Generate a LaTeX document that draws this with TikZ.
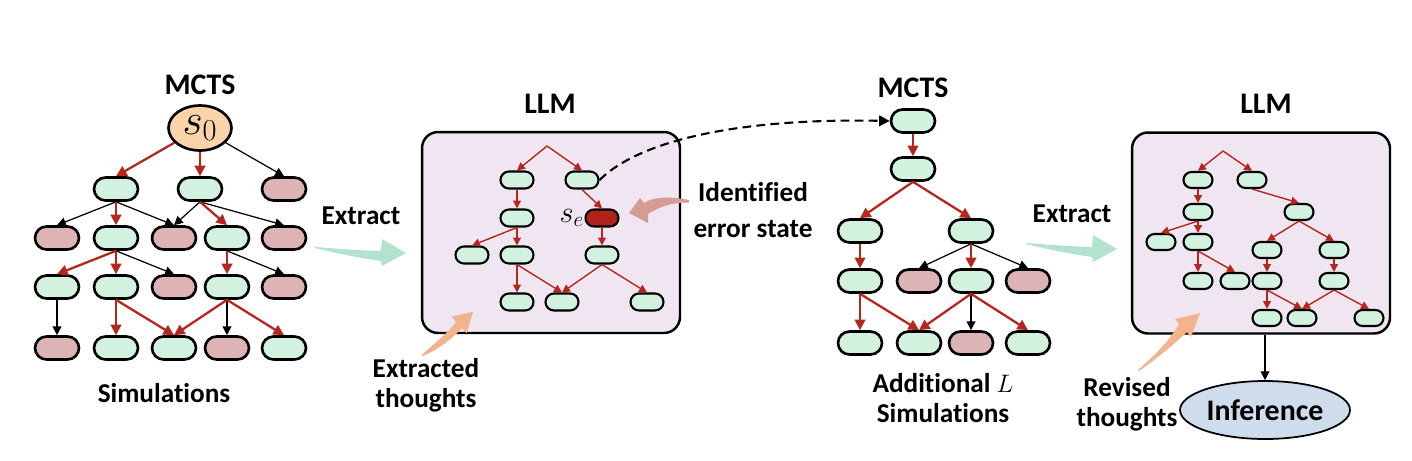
\documentclass[tikz,border=0pt]{standalone}
\usepackage{fontspec}
\setmainfont[Ligatures=NoCommon]{Carlito}
\usetikzlibrary{arrows.meta,shapes.geometric,positioning}
\definecolor{okgreen}{HTML}{D3F1DF}
\definecolor{badpink}{HTML}{DEB3B5}
\definecolor{errred}{HTML}{B0231B}
\definecolor{arrred}{HTML}{B5261E}
\definecolor{boxlav}{HTML}{F0E6F2}
\definecolor{peach}{HTML}{F2B48C}
\definecolor{mint}{HTML}{B3E3CF}
\definecolor{rose}{HTML}{D49C94}
\definecolor{infblue}{HTML}{CFDCEC}
\definecolor{rootfill}{HTML}{F8D4A8}

\begin{document}
\begin{tikzpicture}[x=0.02cm,y=-0.02cm,
  pill/.style={draw,line width=1.5pt,rounded corners=0.23cm,minimum width=0.88cm,minimum height=0.46cm,inner sep=0pt},
  good/.style={pill,fill=okgreen},
  bad/.style={pill,fill=badpink},
  spill/.style={draw,line width=1.2pt,rounded corners=0.17cm,minimum width=0.66cm,minimum height=0.34cm,inner sep=0pt,fill=okgreen},
  tpill/.style={spill,rounded corners=0.16cm,minimum width=0.58cm,minimum height=0.32cm},
  redarr/.style={draw=arrred,line width=1.3pt,-{Triangle[length=6pt,width=6pt]}},
  blkarr/.style={draw=black,line width=0.7pt,-{Triangle[length=5pt,width=5pt]}},
  thinarr/.style={draw=arrred,line width=0.8pt,-{Triangle[length=4.5pt,width=4.5pt]}},
  lbl/.style={font=\fontsize{15.5}{17}\selectfont\bfseries,align=center},
  ttl/.style={font=\fontsize{17}{20}\selectfont\bfseries,inner sep=1pt},
  llmbox/.style={draw,line width=1.4pt,rounded corners=0.32cm,fill=boxlav,minimum width=5.16cm,minimum height=4.02cm},
]
\useasboundingbox (0,0) rectangle (1412,460);

\node[ttl] (mcts1) at (200,85) {MCTS};
\node[ellipse,draw,line width=1.5pt,fill=rootfill,minimum width=1.26cm,minimum height=0.9cm,inner sep=0pt] (s0) at (200,128) {\fontsize{27}{27}\selectfont$s_0$};
\node[good] (a1) at (116,189) {};
\node[good] (a2) at (200,189) {};
\node[bad] (a3) at (284,189) {};
\node[bad] (b1) at (57,238) {};
\node[good] (b2) at (116,238) {};
\node[bad] (b3) at (174,238) {};
\node[good] (b4) at (227,238) {};
\node[bad] (b5) at (284,238) {};
\node[good] (c1) at (57,287) {};
\node[good] (c2) at (116,287) {};
\node[bad] (c3) at (174,287) {};
\node[good] (c4) at (227,287) {};
\node[bad] (c5) at (284,287) {};
\node[bad] (d1) at (57,348) {};
\node[good] (d2) at (116,348) {};
\node[good] (d3) at (174,348) {};
\node[bad] (d4) at (227,348) {};
\node[good] (d5) at (284,348) {};
\draw[blkarr] (s0) -- (a3.north);
\draw[blkarr] (a1.south) -- (b1.north);
\draw[blkarr] (a1.south) -- (b3.north);
\draw[blkarr] (a2.south) -- (b3.north);
\draw[blkarr] (a2.south) -- (b5.north);
\draw[blkarr] (b2.south) -- (c3.north);
\draw[blkarr] (b4.south) -- (c5.north);
\draw[blkarr] (c1.south) -- (d1.north);
\draw[blkarr] (c4.south) -- (d4.north);
\draw[redarr] (s0) -- (a1.north);
\draw[redarr] (s0) -- (a2.north);
\draw[redarr] (a1.south) -- (b2.north);
\draw[redarr] (a2.south) -- (b4.north);
\draw[redarr] (b2.south) -- (c1.north);
\draw[redarr] (b2.south) -- (c2.north);
\draw[redarr] (b4.south) -- (c4.north);
\draw[redarr] (c2.south) -- (d2.north);
\draw[redarr] (c2.south) -- (d3.north);
\draw[redarr] (c4.south) -- (d3.north);
\draw[redarr] (c4.south) -- (d5.north);
\node[lbl] (sim1) at (164,393) {Simulations};

\foreach \ox/\oy in {315/247,1026/243}
  \fill[mint,shift={(\ox,\oy)}] (0,0) .. controls (20,1.5) and (45,3.5) .. (66,4) -- (67,-8) -- (91,6) -- (67,19) -- (66,14) .. controls (45,11) and (20,6) .. (0,1) -- cycle;
\node[lbl] (ext1) at (361,216) {Extract};
\node[lbl] (ext2) at (1072,214) {Extract};

\node[ttl] (llm1) at (550,104) {LLM};
\node[llmbox] (box1) at (551,232.5) {};
\coordinate (r1) at (547,146);
\node[spill] (p1) at (517,180) {};
\node[spill] (p2) at (582,180) {};
\node[spill] (p3) at (517,218) {};
\node[spill,fill=errred] (se) at (602,218) {};
\node[spill] (p5) at (472,255) {};
\node[spill] (p6) at (517,255) {};
\node[spill] (p7) at (602,255) {};
\node[spill] (p8) at (517,302) {};
\node[spill] (p9) at (562,302) {};
\node[spill] (p10) at (647,302) {};
\node[left=-1pt of se,font=\fontsize{18}{18}\selectfont,inner sep=1pt] (selbl) {$s_e$};
\draw[thinarr] (r1) -- (p1.north);
\draw[thinarr] (r1) -- (p2.north);
\draw[thinarr] (p1.south) -- (p3.north);
\draw[thinarr] (p2.south) -- (se.north);
\draw[thinarr] (p3.south) -- (p5.north);
\draw[thinarr] (p3.south) -- (p6.north);
\draw[thinarr] (se.south) -- (p7.north);
\draw[thinarr] (p6.south) -- (p8.north);
\draw[thinarr] (p6.south) -- (p9.north);
\draw[thinarr] (p7.south) -- (p9.north);
\draw[thinarr] (p7.south) -- (p10.north);

\fill[rose] (689,200) .. controls (670,196) and (652,197) .. (644,203) -- (640,198) -- (629,213) -- (648,223) -- (648,214) .. controls (660,206) and (675,202) .. (689,202.5) -- cycle;
\node[lbl,font=\fontsize{15.5}{20}\selectfont\bfseries] (err) at (753,210) {Identified\\error state};
\fill[peach] (421.7,355) .. controls (432,345) and (448,333) .. (456,322) -- (451.7,316.7) -- (473,311.7) -- (466.7,333.3) -- (462,328) .. controls (450,341) and (435,351) .. (423,356) -- cycle;
\node[lbl] (exth) at (426,385) {Extracted\\thoughts};

\node[ttl] (mcts2) at (913,88) {MCTS};
\node[good] (t0) at (913,121) {};
\node[good] (t1) at (913,169) {};
\node[good] (u1) at (860,231) {};
\node[good] (u2) at (971,231) {};
\node[good] (v1) at (860,281) {};
\node[bad] (v2) at (919,281) {};
\node[good] (v3) at (971,281) {};
\node[bad] (v4) at (1028,281) {};
\node[good] (w1) at (860,343) {};
\node[good] (w2) at (919,343) {};
\node[bad] (w3) at (971,343) {};
\node[good] (w4) at (1028,343) {};
\draw[blkarr] (u2.south) -- (v2.north);
\draw[blkarr] (u2.south) -- (v4.north);
\draw[blkarr] (v3.south) -- (w3.north);
\draw[redarr] (t0.south) -- (t1.north);
\draw[redarr] (t1.south) -- (u1.north);
\draw[redarr] (t1.south) -- (u2.north);
\draw[redarr] (u1.south) -- (v1.north);
\draw[redarr] (u2.south) -- (v3.north);
\draw[redarr] (v1.south) -- (w1.north);
\draw[redarr] (v1.south) -- (w2.north);
\draw[redarr] (v3.south) -- (w2.north);
\draw[redarr] (v3.south) -- (w4.north);
\node[lbl] (addsim) at (943,398) {Additional $L$\\Simulations};
\draw[line width=1.2pt,dash pattern=on 5pt off 3pt,-{Triangle[length=6pt,width=6pt]}] (p2.east) .. controls (640,140) and (740,118) .. (t0.west);

\node[ttl] (llm2) at (1266,104) {LLM};
\node[llmbox] (box2) at (1261,233) {};
\coordinate (r2) at (1223,151);
\node[tpill] (q1) at (1198,180) {};
\node[tpill] (q2) at (1252,180) {};
\node[tpill] (q3) at (1198,212) {};
\node[tpill] (q4) at (1299,212) {};
\node[tpill] (q5) at (1161,242) {};
\node[tpill] (q6) at (1198,242) {};
\node[tpill] (q7) at (1267,250) {};
\node[tpill] (q8) at (1334,250) {};
\node[tpill] (q9) at (1198,281) {};
\node[tpill] (q10) at (1235,281) {};
\node[tpill] (q11) at (1267,281) {};
\node[tpill] (q12) at (1334,281) {};
\node[tpill] (q13) at (1267,318) {};
\node[tpill] (q14) at (1302,318) {};
\node[tpill] (q15) at (1369,318) {};
\draw[thinarr] (r2) -- (q1.north);
\draw[thinarr] (r2) -- (q2.north);
\draw[thinarr] (q1.south) -- (q3.north);
\draw[thinarr] (q3.south) -- (q5.north);
\draw[thinarr] (q3.south) -- (q6.north);
\draw[thinarr] (q2.south) -- (q4.north);
\draw[thinarr] (q4.south) -- (q7.north);
\draw[thinarr] (q4.south) -- (q8.north);
\draw[thinarr] (q6.south) -- (q9.north);
\draw[thinarr] (q6.south) -- (q10.north);
\draw[thinarr] (q7.south) -- (q11.north);
\draw[thinarr] (q8.south) -- (q12.north);
\draw[thinarr] (q11.south) -- (q13.north);
\draw[thinarr] (q11.south) -- (q14.north);
\draw[thinarr] (q12.south) -- (q14.north);
\draw[thinarr] (q12.south) -- (q15.north);

\node[ellipse,draw,line width=1pt,fill=infblue,minimum width=2.76cm,minimum height=1.16cm,inner sep=0pt,ttl] (inf) at (1265,410) {Inference};
\draw[blkarr] (box2.south -| inf.north) -- (inf.north);
\fill[peach] (1138,370) .. controls (1155,355) and (1170,340) .. (1179,324) -- (1175,319) -- (1200,313) -- (1191,337) -- (1187,332) .. controls (1172,346) and (1155,360) .. (1139,371) -- cycle;
\node[lbl] (revth) at (1127,404) {Revised\\thoughts};
\end{tikzpicture}
\end{document}
